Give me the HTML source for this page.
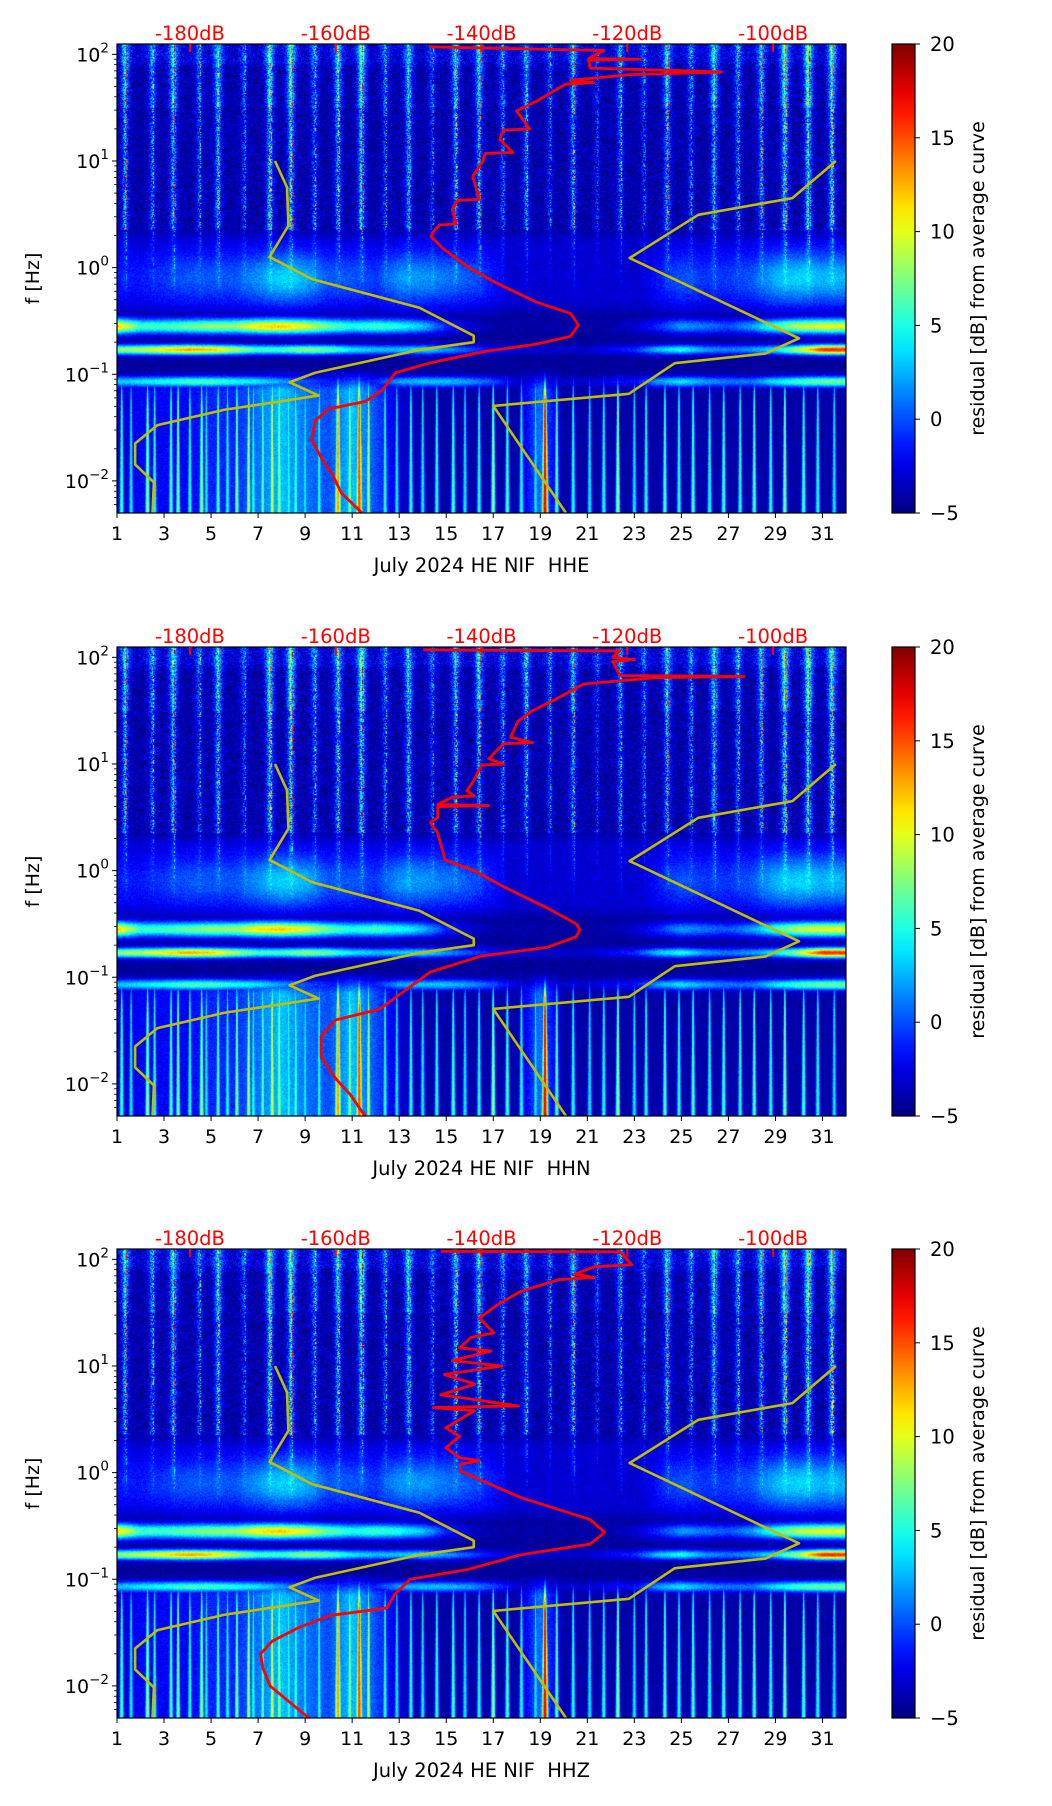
<!DOCTYPE html>
<html><head><meta charset="utf-8">
<style>
html,body{margin:0;padding:0;background:#fff;}
#root{position:relative;width:1052px;height:1806px;overflow:hidden;background:#fff;font-family:"DejaVu Sans","Liberation Sans",sans-serif;}
canvas{position:absolute;}
#overlay{position:absolute;left:0;top:0;}
</style></head>
<body>
<div id="root">
<svg id="overlay" width="1052" height="1806"></svg>
</div>
<script>
// ---------- data ----------
const panelNames = ["HHE","HHN","HHZ"];
const dayTicks = [1,3,5,7,9,11,13,15,17,19,21,23,25,27,29,31];
const dbTicks = [-180,-160,-140,-120,-100];
const freqDecades = [-2,-1,0,1,2];
const cbarTicks = [20,15,10,5,0,-5];

// spectrogram structure (per day 1..32)
const cloudLevel = [0,0,1,2,2,2,4,6,5,2,2,1,4,4,3,2,0,-3,-4,-4,-4,-4,-3,0,2,1,1,2,5,6,5,5];
const bandALevel = [12,6,6,7,8,8,11,12,10,7,5,6,5,3,-1,-3,-4,-4,-4,-4,-4,-4,-3,-1,2,1,0,2,6,9,10,10];
const bandBLevel = [8,9,11,13,12,9,6,6,8,7,4,3,3,4,2,0,-2,-3,-3,-3,-3,-2,-1,3,5,2,1,2,4,9,16,16];
const bandCLevel = [3,4,5,6,6,5,4,2,0,-1,-2,-1,2,3,3,2,0,-3,-3,-3,-3,-2,-2,2,4,2,1,1,4,6,7,7];
const lowBroadLevel = [-3,-2,-2,-2,-1,-1,1,3,1,0,3,0,-3,-4,-4,-4,-4,-4,1,-4,-4,-4,-4,-4,-4,-4,-4,-4,-4,-4,-4,-4];
const stripeDays = [1.35,2.5,3.4,4.5,5.3,6.4,7.5,8.4,9.4,10.4,11.4,12.4,13.4,14.4,15.4,16.4,17.4,18.4,19.4,20.4,21.4,22.4,23.4,24.4,25.4,26.4,27.4,28.4,29.4,30.4,31.4];
const stripeAmp = [9,6,10,5,9,4,11,12,6,9,12,5,9,4,8,9,5,7,4,8,3,6,4,9,5,10,6,8,12,13,11];
const lowStreakDays = [1.2,1.6,2.3,2.6,3.3,3.6,4.1,4.6,4.8,5.3,5.7,6.1,6.6,6.8,7.2,7.6,7.9,8.3,8.6,9.0,9.6,10.4,10.9,11.3,11.7,12.4,12.9,13.5,14.0,14.6,15.3,15.8,16.4,17.0,17.6,18.2,18.8,19.2,19.7,20.4,21.1,21.7,22.3,23.0,23.5,24.3,24.9,25.5,26.2,26.8,27.5,28.1,28.8,29.4,30.2,30.8,31.5];
const lowStreakAmp = [10,8,12,9,10,11,9,12,8,10,9,11,12,9,10,13,12,9,10,8,9,16,12,18,12,9,8,9,8,9,10,8,9,12,10,9,8,20,10,9,8,9,12,8,9,10,9,10,9,10,9,10,9,11,10,9,8];

// yellow reference curves (day, log10 f)
const yellowLeftDay = [7.72,8.23,8.29,7.49,9.29,13.86,16.17,16.17,13.86,9.43,8.34,9.57,5.57,2.72,1.77,1.77,2.57,2.51];
const yellowLeftLf  = [1.0,0.753,0.394,0.10,-0.108,-0.376,-0.638,-0.699,-0.771,-0.986,-1.075,-1.2,-1.333,-1.477,-1.649,-1.846,-2.014,-2.30];
const yellowRightDay = [31.57,29.72,25.72,22.8,30.0,28.57,24.72,22.77,17.0,20.09];
const yellowRightLf  = [1.0,0.652,0.495,0.09,-0.663,-0.806,-0.896,-1.183,-1.297,-2.30];

// red PSD curves (dB, log10 f)
const redDbHHE = [-147.2,-123.2,-125.3,-118.2,-125.3,-125.1,-107.1,-119.6,-127.8,-124.6,-128.5,-132.5,-135.2,-133.4,-137,-137.5,-135.7,-139.5,-139.8,-141.2,-140.3,-143.3,-144,-143.5,-145.8,-146.7,-146.9,-145.3,-141.7,-138,-132.5,-127.8,-126.7,-127.8,-132.5,-139.8,-147.2,-151.8,-153.6,-155.9,-161,-162.8,-163.3,-161.9,-160.5,-159.2,-156.4];
const redLfHHE = [2.07,2.036,1.96,1.955,1.945,1.871,1.835,1.81,1.756,1.735,1.72,1.559,1.47,1.30,1.29,1.2,1.08,1.07,1.0,0.857,0.64,0.63,0.55,0.41,0.40,0.33,0.29,0.179,0,-0.143,-0.323,-0.43,-0.538,-0.645,-0.717,-0.789,-0.896,-0.986,-1.147,-1.254,-1.326,-1.434,-1.613,-1.792,-1.935,-2.115,-2.30];
const redDbHHN = [-148,-121,-122,-119,-122,-121,-104,-116,-126,-130,-133,-135,-136,-133,-137,-139,-137,-140,-141,-142,-141,-144,-146,-139,-146,-146,-147,-146,-145,-141,-137,-131,-127,-126.5,-127,-131,-140,-147,-151,-154,-160,-162,-162,-160,-158,-156];
const redLfHHN = [2.07,2.06,2.0,1.98,1.96,1.83,1.82,1.81,1.75,1.6,1.5,1.4,1.25,1.2,1.19,1.05,1.0,0.99,0.85,0.75,0.70,0.69,0.62,0.61,0.6,0.5,0.45,0.35,0.1,0,-0.15,-0.35,-0.5,-0.55,-0.62,-0.72,-0.8,-0.95,-1.15,-1.3,-1.4,-1.55,-1.75,-1.95,-2.1,-2.3];
const redDbHHZ = [-145.6,-121,-119.4,-124.6,-127.2,-124.5,-129.4,-134.6,-137.7,-140.3,-138.3,-141.4,-143,-138.7,-144,-137.2,-145.1,-140.9,-145.6,-134.9,-146.6,-141,-144.9,-143,-144.9,-143,-140.3,-142.9,-142.9,-139.8,-134.6,-125.1,-123.1,-125.1,-134.6,-142,-149.8,-151.9,-153,-160.8,-165,-168.7,-170.3,-170,-169,-163.7];
const redLfHHZ = [2.075,2.07,1.95,1.93,1.86,1.83,1.81,1.70,1.58,1.45,1.31,1.27,1.17,1.14,1.05,1.0,0.92,0.83,0.73,0.625,0.61,0.58,0.42,0.34,0.234,0.14,0.11,0.08,0.016,-0.08,-0.234,-0.44,-0.56,-0.67,-0.77,-0.91,-1.0,-1.14,-1.27,-1.34,-1.45,-1.58,-1.70,-1.83,-2.0,-2.30];

// ---------- layout ----------
const PL = 117, PW = 729, PH = 469;
const panelTops = [44, 647, 1249];
const LF_TOP = 2.097, LF_BOT = -2.301;
const DAY_MIN = 1, DAY_MAX = 32, DB_MIN = -190, DB_MAX = -90;
const CB_X = 892, CB_W = 23;
function xDay(d){ return (d-DAY_MIN)/(DAY_MAX-DAY_MIN)*PW; }
function yLf(lf){ return (LF_TOP-lf)/(LF_TOP-LF_BOT)*PH; }
function xDb(db){ return (db-DB_MIN)/(DB_MAX-DB_MIN)*PW; }
function jet(t){
  t=Math.max(0,Math.min(1,t));
  const c=v=>Math.max(0,Math.min(1,v));
  return [c(1.5-Math.abs(4*t-3)),c(1.5-Math.abs(4*t-2)),c(1.5-Math.abs(4*t-1))];
}
function interpDay(arr,d){
  const i=Math.max(0,Math.min(arr.length-1,d-1));
  const a=Math.floor(i), b=Math.min(arr.length-1,a+1), f=i-a;
  return arr[a]*(1-f)+arr[b]*f;
}
function hash(x,y,s){ let h=(x*374761393+y*668265263+s*1442695041)|0; h=(h^(h>>>13))*1274126177|0; h=h^(h>>>16); return ((h>>>0)%10000)/10000; }
const g=(x,m,w)=>Math.exp(-((x-m)/w)*((x-m)/w));
const smooth=(a,b,x)=>{const t=Math.max(0,Math.min(1,(x-a)/(b-a)));return t*t*(3-2*t);};

const root=document.getElementById('root');
const svg=document.getElementById('overlay');
const NS='http://www.w3.org/2000/svg';
function mk(tag,attrs,parent){const e=document.createElementNS(NS,tag);for(const k in attrs)e.setAttribute(k,attrs[k]);(parent||svg).appendChild(e);return e;}

const defs=mk('defs',{});
const lg=mk('linearGradient',{id:'jetgrad',x1:0,y1:1,x2:0,y2:0},defs);
for(let i=0;i<=20;i++){const c=jet(i/20);mk('stop',{offset:(i/20),'stop-color':`rgb(${Math.round(c[0]*255)},${Math.round(c[1]*255)},${Math.round(c[2]*255)})`},lg);}

function drawSpectrogram(ctx,seed){
  const img=ctx.createImageData(PW,PH);
  const glowCol=new Float32Array(PW), stripeCol=new Float32Array(PW), coreCol=new Float32Array(PW);
  const dayOf=new Float32Array(PW);
  const cl=new Float32Array(PW),bA=new Float32Array(PW),bB=new Float32Array(PW),bC=new Float32Array(PW),lb=new Float32Array(PW);
  for(let x=0;x<PW;x++){
    const d=DAY_MIN+(x+0.5)/PW*(DAY_MAX-DAY_MIN);
    dayOf[x]=d;
    let s=0,c=0,gl=0;
    for(let k=0;k<stripeDays.length;k++){gl+=stripeAmp[k]*g(d,stripeDays[k],0.22);s+=stripeAmp[k]*g(d,stripeDays[k],0.08);c+=stripeAmp[k]*g(d,stripeDays[k]+0.05,0.025);}
    glowCol[x]=gl;stripeCol[x]=s;coreCol[x]=c;
    cl[x]=interpDay(cloudLevel,d);bA[x]=interpDay(bandALevel,d);bB[x]=interpDay(bandBLevel,d);bC[x]=interpDay(bandCLevel,d);lb[x]=interpDay(lowBroadLevel,d);
  }
  for(let y=0;y<PH;y++){
    const lf=LF_TOP-(y+0.5)/PH*(LF_TOP-LF_BOT);
    const upper = lf>0.35?1:(lf>-0.3?(lf+0.3)/0.65*0.5:0);
    const lowW = lf<-1.15?1:(lf<-0.95?(-0.95-lf)/0.2:0);
    const gc=g(lf,-0.1,0.25), gA=g(lf,-0.55,0.07), gB=g(lf,-0.77,0.045), gC=g(lf,-1.07,0.05);
    const spread = lf<-1.15 ? 1+(-1.15-lf)*1.2 : 1;
    const taper=lf<-1.3?1:Math.max(0,1-(lf+1.3)/0.35*0.6);
    let base=-4.3 + 1.3*smooth(-0.5,-0.3,lf) - 1.2*smooth(0.2,0.4,lf) + 1.2*smooth(1.85,1.95,lf);
    const topGlow = lf>1.5 ? 1 : (lf>0.35?0.6:0.3);
    const lowRow=new Float32Array(PW);
    if(lowW>0){
      for(let k=0;k<lowStreakDays.length;k++){
        const w=(lowStreakAmp[k]>15?0.06:0.04)*spread;
        const x0=Math.max(0,Math.floor(xDay(lowStreakDays[k]-3*w))), x1=Math.min(PW-1,Math.ceil(xDay(lowStreakDays[k]+3*w)));
        for(let x=x0;x<=x1;x++){const v=lowStreakAmp[k]*g(dayOf[x],lowStreakDays[k],w);if(v>lowRow[x])lowRow[x]=v;}
      }
    }
    for(let x=0;x<PW;x++){
      const n=hash(x,y,seed);
      let v=base;
      if(lf>-0.45&&lf<0.4) v+=Math.max(0,cl[x]+2)*gc*0.8;
      v=Math.max(v,-4.3+(bA[x]+4.3)*gA);
      v=Math.max(v,-4.3+(bB[x]+4.3)*gB);
      v=Math.max(v,-4.3+(bC[x]+4.3)*gC);
      if(upper>0){
        v+=glowCol[x]*0.5*upper*topGlow;
        v+=stripeCol[x]*0.4*upper*(0.2+n*1.4);
        if(n>0.65) v+=coreCol[x]*1.3*upper;}
      if(lowW>0){
        v=Math.max(v,-4.3+(lb[x]+4.3)*lowW, -4.3+lowRow[x]*lowW*taper*1.1);
      }
      v+=(n-0.5)*(upper>0.5?4.5:1.6);
      const c=jet((v+5)/25);
      const i=(y*PW+x)*4;
      img.data[i]=c[0]*255;img.data[i+1]=c[1]*255;img.data[i+2]=c[2]*255;img.data[i+3]=255;
    }
  }
  ctx.putImageData(img,0,0);
}

function drawPanel(p){
  const top=panelTops[p];
  const cv=document.createElement('canvas');
  cv.width=PW;cv.height=PH;cv.style.left=PL+'px';cv.style.top=top+'px';
  
  
  root.insertBefore(cv,svg);
  drawSpectrogram(cv.getContext('2d'),p+1);

  const G=mk('g',{transform:`translate(${PL},${top})`});
  
  
  const clip=mk('clipPath',{id:'clip'+p},defs); mk('rect',{x:0,y:0,width:PW,height:PH},clip);
  const lines=mk('g',{'clip-path':`url(#clip${p})`},G);
  const yl=mk('polyline',{points:yellowLeftDay.map((d,i)=>xDay(d)+','+yLf(yellowLeftLf[i])).join(' '),fill:'none',stroke:'#bfbf00','stroke-width':2.6,'stroke-linejoin':'round'},lines);
  
  
  const yr=mk('polyline',{points:yellowRightDay.map((d,i)=>xDay(d)+','+yLf(yellowRightLf[i])).join(' '),fill:'none',stroke:'#bfbf00','stroke-width':2.6,'stroke-linejoin':'round'},lines);
  
  
  const rdb=[redDbHHE,redDbHHN,redDbHHZ][p], rlf=[redLfHHE,redLfHHN,redLfHHZ][p];
  const rc=mk('polyline',{points:rdb.map((v,i)=>xDb(v)+','+yLf(rlf[i])).join(' '),fill:'none',stroke:'#ff0000','stroke-width':2.8,'stroke-linejoin':'round'},lines);
  
  
  const fr=mk('rect',{x:0,y:0,width:PW,height:PH,fill:'none',stroke:'#000','stroke-width':1.2},G);
  
  
  dayTicks.forEach(d=>{const x=xDay(d);
    mk('line',{x1:x,y1:PH,x2:x,y2:PH+5,stroke:'#000','stroke-width':1},G);
    const t=mk('text',{x:x,y:PH+27,'text-anchor':'middle','font-size':19,fill:'#000'},G);t.textContent=d;
    
    
  });
  const xl=mk('text',{x:PW/2,y:PH+59,'text-anchor':'middle','font-size':19.5,fill:'#000'},G);
  xl.textContent='July 2024 HE NIF\u00a0\u00a0'+panelNames[p];
  
  
  dbTicks.forEach(db=>{const x=xDb(db);
    mk('line',{x1:x,y1:0,x2:x,y2:8,stroke:'#ff0000','stroke-width':2},G);
    const t=mk('text',{x:x,y:-4,'text-anchor':'middle','font-size':19.5,fill:'#ff0000'},G);t.textContent=db+'dB';
    
    
  });
  for(let e=-3;e<=2;e++){for(let m=1;m<10;m++){const lf=e+Math.log10(m);if(lf<LF_BOT||lf>LF_TOP)continue;const y=yLf(lf);
    mk('line',{x1:m===1?-5:-3,y1:y,x2:0,y2:y,stroke:'#000','stroke-width':m===1?1:0.8},G);}}
  freqDecades.forEach(e=>{const y=yLf(e);
    const t=mk('text',{x:-8,y:y+7,'text-anchor':'end','font-size':19,fill:'#000'},G);
    const a=mk('tspan',{},t);a.textContent='10';const b=mk('tspan',{dy:-9,'font-size':13.5},t);b.textContent=(e<0?'\u2212':'')+Math.abs(e);
    
    
  });
  const ylab=mk('text',{x:0,y:0,transform:`translate(-78,${PH/2}) rotate(-90)`,'text-anchor':'middle','font-size':19,fill:'#000'},G);
  ylab.textContent='f [Hz]';
  
  
  const cb=mk('g',{transform:`translate(${CB_X},${top})`});
  
  
  mk('rect',{x:0,y:0,width:CB_W,height:PH,fill:'url(#jetgrad)',stroke:'#000','stroke-width':1.2},cb);
  cbarTicks.forEach(v=>{const y=(20-v)/25*PH;
    mk('line',{x1:CB_W,y1:y,x2:CB_W+5,y2:y,stroke:'#000','stroke-width':1},cb);
    const t=mk('text',{x:CB_W+15,y:y+7,'font-size':19.5,fill:'#000'},cb);t.textContent=v<0?'\u2212'+Math.abs(v):v;
    
    
  });
  const cl=mk('text',{x:0,y:0,transform:`translate(92,${PH/2}) rotate(-90)`,'text-anchor':'middle','font-size':19,fill:'#000'},cb);
  cl.textContent='residual [dB] from average curve';
  
  
}
for(let p=0;p<3;p++) drawPanel(p);
</script>
</body></html>
